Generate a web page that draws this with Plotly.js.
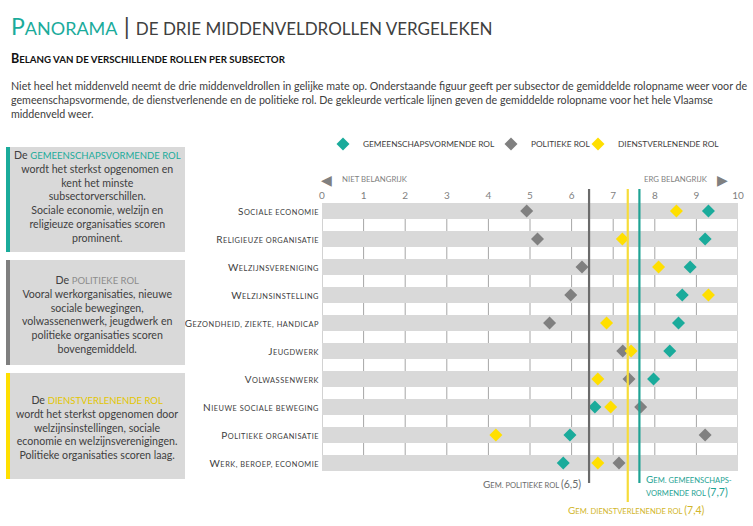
<!DOCTYPE html>
<html><head><meta charset="utf-8">
<script src="https://cdn.plot.ly/plotly-3.0.1.min.js"></script>
<style>body{margin:0;background:#fff}#chart{width:753px;height:526px}</style>
</head><body><div id="chart"></div>
<script>
// ---------- data ----------
const categories = ['Sociale economie','Religieuze organisatie','Welzijnsvereniging','Welzijnsinstelling','Gezondheid, ziekte, handicap','Jeugdwerk','Volwassenwerk','Nieuwe sociale beweging','Politieke organisatie','Werk, beroep, economie'];
const gemeenschap = [9.29,9.21,8.85,8.66,8.57,8.36,7.97,6.56,5.96,5.80];
const politiek    = [4.92,5.18,6.25,5.98,5.47,7.23,7.38,7.66,9.21,7.14];
const dienst      = [8.52,7.22,8.09,9.29,6.84,7.43,6.63,6.94,4.18,6.63];
const scaleMax = 10;
const tickValues = [0,1,2,3,4,5,6,7,8,9,10];
const roleNames = ['Gemeenschapsvormende rol','Politieke rol','Dienstverlenende rol'];
const averages = [7.63, 6.42, 7.35];        // gemeenschap, politiek, dienst (line positions)
const averageLabels = ['7,7','6,5','7,4'];

// ---------- style ----------
const TEAL = '#1aab9b', GRAY = '#808080', YELLOW = '#ffdf00';
const TXT = '#404040';
const L = 322, R = 15, T = 197, B = 49, W = 753, H = 526;
const PW = W - L - R, PH = H - T - B;
const xp = px => (px - L) / PW;
const yp = py => (H - B - py) / PH;

function sc(s, big, small, extra) {
  extra = extra || '';
  let out = '', run = '', cur = null;
  const flush = () => { if (run) out += `<span style="font-size:${cur === 's' ? small : big}px;${extra}">${run}</span>`; run = ''; };
  for (const ch of s) {
    let t;
    if (/[a-zë]/.test(ch)) t = 's';
    else if (/[A-Z0-9()]/.test(ch)) t = 'b';
    else t = cur || 's';
    if (t !== cur) { flush(); cur = t; }
    run += (t === 's') ? ch.toUpperCase() : ch;
  }
  flush();
  return out;
}

const traces = [
  { type: 'bar', orientation: 'h', y: categories, x: categories.map(() => scaleMax), width: 0.54,
    marker: { color: '#d9d9d9' }, hoverinfo: 'skip', showlegend: false },
  { type: 'scatter', mode: 'markers', name: roleNames[0].toUpperCase(), x: gemeenschap, y: categories,
    marker: { symbol: 'diamond', size: 10, color: TEAL }, legend: 'legend' },
  { type: 'scatter', mode: 'markers', name: roleNames[1].toUpperCase(), x: politiek, y: categories,
    marker: { symbol: 'diamond', size: 10, color: GRAY }, legend: 'legend2' },
  { type: 'scatter', mode: 'markers', name: roleNames[2].toUpperCase(), x: dienst, y: categories,
    marker: { symbol: 'diamond', size: 10, color: YELLOW }, legend: 'legend3' }
];

const shapes = [];
tickValues.forEach(v => shapes.push({ type: 'line', xref: 'x', yref: 'y', x0: v, x1: v, y0: 0, y1: categories.length - 1,
  line: { color: '#a6a6a6', width: 1 }, layer: 'below' }));
const lineColors = ['#1fa394', '#6b6b6b', '#f6dc3a'];
const lineBottoms = [yp(483), yp(483), yp(502)];
averages.forEach((a, i) => shapes.push({ type: 'line', xref: 'x', yref: 'paper', x0: a, x1: a, y0: lineBottoms[i], y1: yp(189),
  line: { color: lineColors[i], width: 2.2 } }));
// left boxes
const boxes = [[147, 252, TEAL], [260, 365, '#7f7f7f'], [373, 479, '#ffdf00']];
boxes.forEach(b => {
  shapes.push({ type: 'rect', xref: 'paper', yref: 'paper', x0: xp(7), x1: xp(185), y0: yp(b[1]), y1: yp(b[0]), fillcolor: '#d9d9d9', line: { width: 0 } });
  shapes.push({ type: 'rect', xref: 'paper', yref: 'paper', x0: xp(6), x1: xp(10), y0: yp(b[1]), y1: yp(b[0]), fillcolor: b[2], line: { width: 0 } });
});

const ann = [];
const A = (o) => ann.push(Object.assign({ xref: 'paper', yref: 'paper', showarrow: false }, o));
// title
A({ x: xp(9), y: yp(25), xanchor: 'left', yanchor: 'middle',
  text: `<span style="color:${TEAL}">${sc('Panorama', 23, 18)}</span><span style="color:#404040;font-size:24px"> | </span><span style="color:#404040;font-size:17px">DE DRIE MIDDENVELDROLLEN VERGELEKEN</span>`,
  font: { size: 18, color: TXT } });
A({ x: xp(9), y: yp(58), xanchor: 'left', yanchor: 'middle',
  text: '<b>' + sc('Belang van de verschillende rollen per subsector', 12.5, 9.7) + '</b>', font: { size: 12, color: '#111' } });
A({ x: xp(9), y: yp(100), xanchor: 'left', yanchor: 'middle', align: 'left',
  text: 'Niet heel het middenveld neemt de drie middenveldrollen in gelijke mate op. Onderstaande figuur geeft per subsector de gemiddelde rolopname weer voor de<br>gemeenschapsvormende, de dienstverlenende en de politieke rol. De gekleurde verticale lijnen geven de gemiddelde rolopname voor het hele Vlaamse<br>middenveld weer.',
  font: { size: 10.7, color: TXT } });
// boxes text
A({ x: xp(97), y: yp(196), xanchor: 'center', yanchor: 'middle', align: 'center', font: { size: 10.6, color: TXT },
  text: `De <span style="color:${TEAL};font-size:9.5px">GEMEENSCHAPSVORMENDE ROL</span><br>wordt het sterkst opgenomen en<br>kent het minste<br>subsectorverschillen.<br>Sociale economie, welzijn en<br>religieuze organisaties scoren<br>prominent.` });
A({ x: xp(97), y: yp(314.5), xanchor: 'center', yanchor: 'middle', align: 'center', font: { size: 10.6, color: TXT },
  text: `De <span style="color:#8c8c8c;font-size:9.5px">POLITIEKE ROL</span><br>Vooral werkorganisaties, nieuwe<br>sociale bewegingen,<br>volwassenenwerk, jeugdwerk en<br>politieke organisaties scoren<br>bovengemiddeld.` });
A({ x: xp(97), y: yp(427), xanchor: 'center', yanchor: 'middle', align: 'center', font: { size: 10.6, color: TXT },
  text: `De <span style="color:#e3c600;font-size:9.5px">DIENSTVERLENENDE ROL</span><br>wordt het sterkst opgenomen door<br>welzijnsinstellingen, sociale<br>economie en welzijnsverenigingen.<br>Politieke organisaties scoren laag.` });
// direction hints
A({ x: xp(326), y: yp(179), xanchor: 'center', yanchor: 'middle', text: '◀', font: { size: 14, color: GRAY } });
A({ x: xp(340), y: yp(179), xanchor: 'left', yanchor: 'middle', text: 'NIET BELANGRIJK', font: { size: 7.8, color: '#7f7f7f' } });
A({ x: xp(710), y: yp(179), xanchor: 'right', yanchor: 'middle', text: 'ERG BELANGRIJK', font: { size: 7.8, color: '#7f7f7f' } });
A({ x: xp(722), y: yp(179), xanchor: 'center', yanchor: 'middle', text: '▶', font: { size: 14, color: GRAY } });
// average labels
ann.push({ xref: 'x', yref: 'paper', x: averages[1], xshift: -6, y: yp(484), xanchor: 'right', yanchor: 'middle', showarrow: false,
  text: sc('Gem. politieke rol ', 10, 7.6) + `<span style="font-size:10.5px">(${averageLabels[1]})</span>`, font: { size: 10, color: '#6b6b6b' } });
ann.push({ xref: 'x', yref: 'paper', x: averages[0], xshift: 5, y: yp(485), xanchor: 'left', yanchor: 'middle', align: 'left', showarrow: false,
  text: sc('Gem. gemeenschaps-', 10, 7.6) + '<br>' + sc('vormende rol ', 7.6, 7.6) + `<span style="font-size:10.5px">(${averageLabels[0]})</span>`, font: { size: 10, color: '#1fa394' } });
ann.push({ xref: 'x', yref: 'paper', x: averages[2], xshift: 9, y: yp(510), xanchor: 'center', yanchor: 'middle', showarrow: false,
  text: sc('Gem. dienstverlenende rol ', 10, 7.6) + `<span style="font-size:10.5px">(${averageLabels[2]})</span>`, font: { size: 10, color: '#d2b62a' } });

const legBase = { orientation: 'h', yanchor: 'middle', xanchor: 'left', y: yp(144), bgcolor: 'rgba(0,0,0,0)',
  font: { size: 8.3, color: TXT }, borderwidth: 0 };

const layout = {
  width: W, height: H, margin: { l: L, r: R, t: T, b: B },
  paper_bgcolor: '#fff', plot_bgcolor: 'rgba(0,0,0,0)',
  font: { family: 'Lato, "Open Sans", sans-serif', color: TXT },
  xaxis: { range: [0, scaleMax], side: 'top', tickvals: tickValues, showgrid: false, zeroline: false, showline: false,
    ticks: '', tickfont: { size: 10, color: '#7f7f7f' }, ticklabelstandoff: -5, fixedrange: true },
  yaxis: { type: 'category', categoryarray: categories, range: [categories.length - 0.5, -0.5], tickvals: categories,
    ticktext: categories.map(c => sc(c, 10, 7.4, 'letter-spacing:0.5px')), showgrid: false, zeroline: false, showline: false,
    ticks: '', tickfont: { size: 10, color: TXT }, ticklabelstandoff: 2, fixedrange: true },
  bargap: 0, showlegend: true,
  legend: Object.assign({}, legBase, { x: xp(323) }),
  legend2: Object.assign({}, legBase, { x: xp(491) }),
  legend3: Object.assign({}, legBase, { x: xp(578) }),
  shapes: shapes, annotations: ann
};

Plotly.newPlot('chart', traces, layout, { displayModeBar: false, staticPlot: true });
</script></body></html>
